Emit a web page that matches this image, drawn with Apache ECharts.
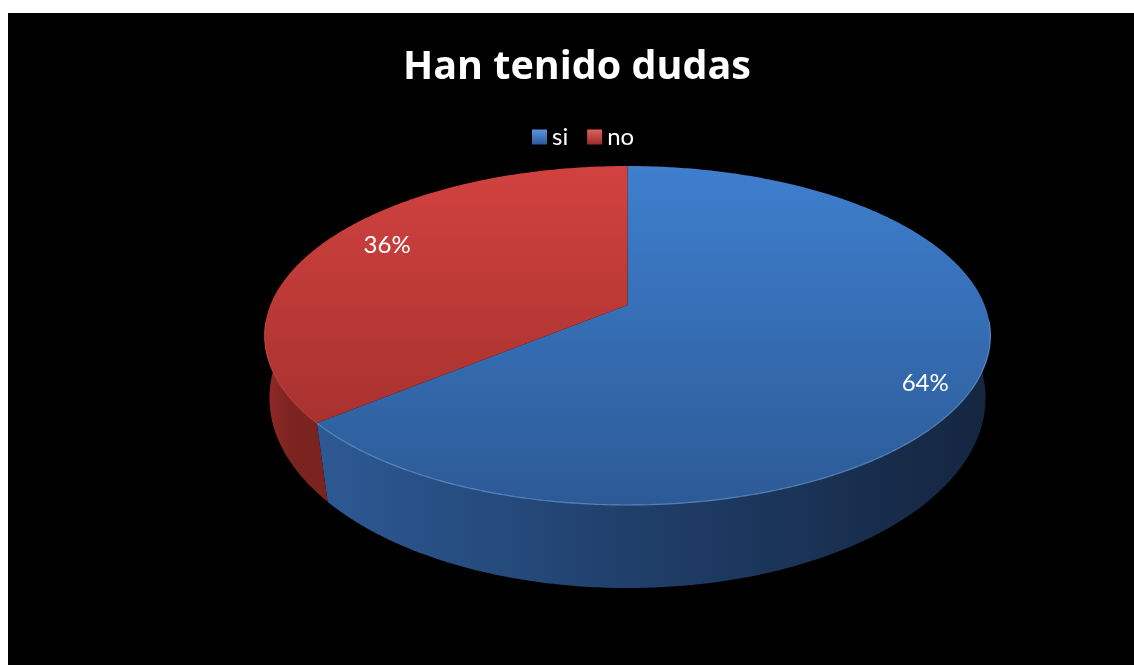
<!DOCTYPE html>
<html><head><meta charset="utf-8">
<script src="https://cdn.jsdelivr.net/npm/echarts@6/dist/echarts.min.js"></script>
<style>
html,body{margin:0;padding:0;background:#fff;width:1134px;height:665px;overflow:hidden}
#c{position:absolute;left:8px;top:13px;width:1126px;height:652px;background:#000}
</style></head><body><div id="c"></div>
<script>
// ---- data ----
const categories = ['si', 'no'];
const values = [64, 36];
const titleText = 'Han tenido dudas';

// ---- styling ----
const palettes = [
  { top: ['#3e7fce', '#2c5a96'], wall: ['#2d5994', '#20406c', '#14253f'], rim: 'rgba(120,170,235,0.6)',
    legend: ['#5b97df', '#2a5a9a'] },
  { top: ['#d1423f', '#9b2c2a'], wall: ['#922a27', '#7b231f', '#7b231f'], rim: 'rgba(225,95,90,0.45)',
    legend: ['#e0605c', '#9e2c2a'] }
];

const chart = echarts.init(document.getElementById('c'), null, { renderer: 'canvas' });
const OX = 8, OY = 13;
const CX = 627.5 - OX;
const TOP = { cy: 305 - OY, R: 357, Ry: 164, k: 0.18 };
const BOT = { cy: 371.4 - OY, R: 354.5, Ry: 186.3, k: 0.14 };
const LBL = { cy: 306.6 - OY, R: 294, Ry: 160, k: 0.25 };
function proj(P, th, f) {
  const s = f * Math.sin(th), c = f * Math.cos(th);
  const w = 1 + P.k * c;
  return [CX + P.R * s / w, P.cy - P.Ry * c / w];
}
const total = values.reduce((a, b) => a + b, 0);
const starts = [];
let acc = 0;
values.forEach(v => { starts.push(acc / total * 2 * Math.PI); acc += v; });

function arc(P, a0, a1) {
  const pts = [];
  const n = Math.max(2, Math.ceil((a1 - a0) / 0.01));
  for (let j = 0; j <= n; j++) pts.push(proj(P, a0 + (a1 - a0) * j / n, 1));
  return pts;
}

function makeRender(i) {
  return function (params, api) {
    const v = api.value(0);
    const a0 = starts[i];
    const a1 = a0 + v / total * 2 * Math.PI;
    const pal = palettes[i];
    const children = [];
    // front wall
    const w0 = Math.max(a0, Math.PI / 2 - 0.12);
    const w1 = Math.min(a1, 3 * Math.PI / 2 + 0.12);
    if (w1 > w0) {
      const topArc = arc(TOP, w0, w1);
      const botArc = arc(BOT, w0, w1).reverse();
      const xs = topArc.concat(botArc).map(p => p[0]);
      const minX = Math.min.apply(null, xs), maxX = Math.max.apply(null, xs);
      children.push({
        type: 'polygon', silent: true,
        shape: { points: topArc.concat(botArc) },
        style: {
          fill: { type: 'linear', x: minX, y: 0, x2: maxX, y2: 0, global: true,
            colorStops: [{ offset: 0, color: pal.wall[0] }, { offset: 0.45, color: pal.wall[1] }, { offset: 1, color: pal.wall[2] }] }
        }
      });
    }
    // top face
    const c0 = proj(TOP, 0, 0);
    const topPts = [c0].concat(arc(TOP, a0, a1));
    children.push({
      type: 'polygon', silent: true,
      shape: { points: topPts },
      style: {
        fill: { type: 'linear', x: 0, y: TOP.cy - TOP.Ry / (1 + TOP.k), x2: 0, y2: TOP.cy + TOP.Ry / (1 - TOP.k), global: true,
          colorStops: [{ offset: 0, color: pal.top[0] }, { offset: 1, color: pal.top[1] }] }
      }
    });
    // rim highlight on the front
    const h0 = Math.max(a0, Math.PI / 2 + 0.1);
    const h1 = Math.min(a1, 3 * Math.PI / 2 - 0.1);
    if (h1 > h0) {
      children.push({
        type: 'polyline', silent: true,
        shape: { points: arc(TOP, h0, h1) },
        style: { stroke: pal.rim, lineWidth: 1.2, fill: null }
      });
    }
    // label
    const mid = (a0 + a1) / 2;
    const lp = proj(LBL, mid, 1);
    children.push({
      type: 'text', silent: true,
      x: lp[0], y: lp[1],
      style: {
        text: Math.round(v / total * 100) + '%',
        fill: '#ffffff', font: '24px Lato', align: 'center', verticalAlign: 'middle'
      }
    });
    return { type: 'group', children: children };
  };
}

const series = categories.map((name, i) => ({
  type: 'custom',
  name: name,
  coordinateSystem: 'none',
  data: [[values[i]]],
  itemStyle: { color: { type: 'linear', x: 0, y: 0, x2: 0, y2: 1,
    colorStops: [{ offset: 0, color: palettes[i].legend[0] }, { offset: 1, color: palettes[i].legend[1] }] } },
  renderItem: makeRender(i),
  animation: false
}));

chart.setOption({
  backgroundColor: '#000',
  animation: false,
  title: {
    text: titleText,
    left: 390,
    top: 30,
    textStyle: { color: '#fff', fontSize: 39.5, fontWeight: 'bold', fontFamily: 'Open Sans' }
  },
  legend: {
    data: categories,
    left: 519,
    top: 107,
    itemWidth: 15,
    itemHeight: 15,
    itemGap: 19,
    itemStyle: { borderWidth: 0 },
    icon: 'rect',
    textStyle: { color: '#fff', fontSize: 24, fontFamily: 'Lato' }
  },
  series: series
});
</script></body></html>
